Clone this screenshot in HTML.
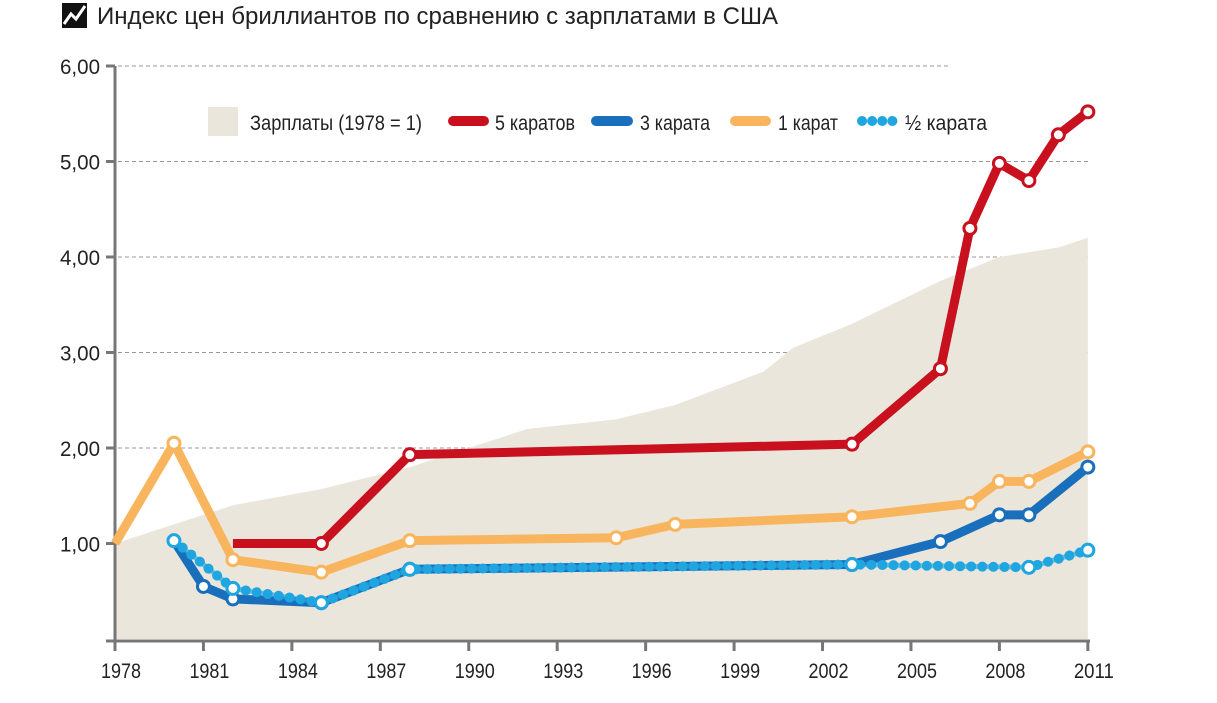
<!DOCTYPE html>
<html><head><meta charset="utf-8"><style>
body{margin:0;background:#fff;}
svg{display:block;font-family:"Liberation Sans","DejaVu Sans",sans-serif;}
</style></head><body>
<svg id="chart" width="1217" height="703" viewBox="0 0 1217 703">
<g>
<rect x="62" y="3" width="25" height="25" fill="#111"/>
<polyline points="64,24 71,14 76,19 85,6" fill="none" stroke="#fff" stroke-width="3"/>
<text x="97" y="24" font-size="24" textLength="681" lengthAdjust="spacingAndGlyphs" fill="#222">Индекс цен бриллиантов по сравнению с зарплатами в США</text>
</g>
<g id="grid"></g>
<g id="area"></g>
<g id="axes"></g>
<g id="series"></g>
<g>
<rect x="208" y="107" width="30" height="29" fill="#ebe6dc"/>
<text x="250" y="130" font-size="21" textLength="172" lengthAdjust="spacingAndGlyphs" fill="#222">Зарплаты (1978 = 1)</text>
<line x1="453" y1="121" x2="484" y2="121" stroke="#c8101e" stroke-width="10" stroke-linecap="round"/>
<text x="495" y="130" font-size="21" textLength="80" lengthAdjust="spacingAndGlyphs" fill="#222">5 каратов</text>
<line x1="596" y1="121" x2="628" y2="121" stroke="#1a6fbd" stroke-width="10" stroke-linecap="round"/>
<text x="640" y="130" font-size="21" textLength="70" lengthAdjust="spacingAndGlyphs" fill="#222">3 карата</text>
<line x1="735" y1="121" x2="766" y2="121" stroke="#f9b55e" stroke-width="10" stroke-linecap="round"/>
<text x="778" y="130" font-size="21" textLength="60" lengthAdjust="spacingAndGlyphs" fill="#222">1 карат</text>
<line x1="862" y1="121" x2="894" y2="121" stroke="#1fa6e0" stroke-width="10" stroke-linecap="round" stroke-dasharray="0.1 10"/>
<text x="905" y="130" font-size="21" textLength="82" lengthAdjust="spacingAndGlyphs" fill="#222">½ карата</text>
</g>
</svg>
<script>
const yTicks=[1,2,3,4,5,6];
const yTickLabels=["1,00","2,00","3,00","4,00","5,00","6,00"];
const xTicks=[1978,1981,1984,1987,1990,1993,1996,1999,2002,2005,2008,2011];
const wageYears=[1978,1980,1982,1985,1988,1990,1992,1995,1997,2000,2001,2003,2006,2008,2010,2011];
const wageVals=[1.0,1.2,1.4,1.57,1.8,2.0,2.2,2.3,2.45,2.8,3.05,3.3,3.75,4.0,4.1,4.2];
const ct5Years=[1982,1985,1988,2003,2006,2007,2008,2009,2010,2011];
const ct5Vals=[1.0,1.0,1.93,2.04,2.83,4.3,4.98,4.8,5.28,5.52];
const ct3Years=[1980,1981,1982,1985,1988,2003,2006,2008,2009,2011];
const ct3Vals=[1.03,0.55,0.42,0.38,0.73,0.78,1.02,1.3,1.3,1.8];
const ct1Years=[1978,1980,1982,1985,1988,1995,1997,2003,2007,2008,2009,2011];
const ct1Vals=[1.0,2.05,0.83,0.7,1.03,1.06,1.2,1.28,1.42,1.65,1.65,1.96];
const halfYears=[1980,1982,1985,1988,2003,2009,2011];
const halfVals=[1.03,0.53,0.38,0.73,0.78,0.75,0.93];

const NS="http://www.w3.org/2000/svg";
const x=yr=>115+(yr-1978)*29.48;
const y=v=>639-v*95.5;
function mk(tag,attrs,parent){const e=document.createElementNS(NS,tag);for(const k in attrs)e.setAttribute(k,attrs[k]);parent.appendChild(e);return e;}
const grid=document.getElementById('grid'),axes=document.getElementById('axes'),area=document.getElementById('area'),series=document.getElementById('series');
yTicks.forEach((t,i)=>{
  const g=mk('line',{x1:118,x2:t===6?950:1090,y1:y(t),y2:y(t),stroke:'#999','stroke-width':1,'stroke-dasharray':'4 3'},grid);
  
  
  const tk=mk('line',{x1:106,x2:115,y1:y(t),y2:y(t),stroke:'#777','stroke-width':3},axes);
  
  
  const tx=mk('text',{x:100,y:y(t)+8,'font-size':21,'text-anchor':'end',fill:'#222',textLength:40,lengthAdjust:'spacingAndGlyphs'},axes);
  tx.textContent=yTickLabels[i];
  
  
});
let d='M'+x(wageYears[0])+','+y(0);
wageYears.forEach((yr,i)=>{d+=' L'+x(yr)+','+y(wageVals[i]);});
d+=' L'+x(wageYears[wageYears.length-1])+','+y(0)+' Z';
const ar=mk('path',{d:d,fill:'#ebe6dc'},area);


const ya=mk('line',{x1:115,x2:115,y1:66,y2:641,stroke:'#777','stroke-width':3},axes);


const xa=mk('line',{x1:106,x2:1090,y1:641,y2:641,stroke:'#777','stroke-width':3},axes);


xTicks.forEach(t=>{
  const tk=mk('line',{x1:x(t),x2:x(t),y1:641,y2:651,stroke:'#777','stroke-width':3},axes);
  
  
  const tx=mk('text',{x:x(t)+6,y:678,'font-size':21,'text-anchor':'middle',fill:'#222',textLength:40,lengthAdjust:'spacingAndGlyphs'},axes);
  tx.textContent=t;
  
  
});
function drawSeries(name,years,vals,color,dotted,skip){
  const pts=years.map((yr,i)=>x(yr)+','+y(vals[i])).join(' ');
  const g=mk('g',{},series);
  
  
  if(dotted){
    const l0=mk('polyline',{points:pts,fill:'none',stroke:color,'stroke-width':5,'stroke-linejoin':'round','stroke-opacity':0.6},g);
    
    
  }
  const l=mk('polyline',{points:pts,fill:'none',stroke:color,'stroke-width':dotted?10:9,'stroke-linejoin':'round','stroke-linecap':dotted?'round':'butt','stroke-dasharray':dotted?'0.1 11':'none'},g);
  
  
  years.forEach((yr,i)=>{
    if(skip.includes(i))return;
    const c=mk('circle',{cx:x(yr),cy:y(vals[i]),r:6,fill:'#fff',stroke:color,'stroke-width':3},g);
    
    
  });
}
drawSeries('1ct',ct1Years,ct1Vals,'#f9b55e',false,[0]);
drawSeries('3ct',ct3Years,ct3Vals,'#1a6fbd',false,[0]);
drawSeries('half-ct',halfYears,halfVals,'#1fa6e0',true,[]);
drawSeries('5ct',ct5Years,ct5Vals,'#c8101e',false,[0]);
</script>
</body></html>
